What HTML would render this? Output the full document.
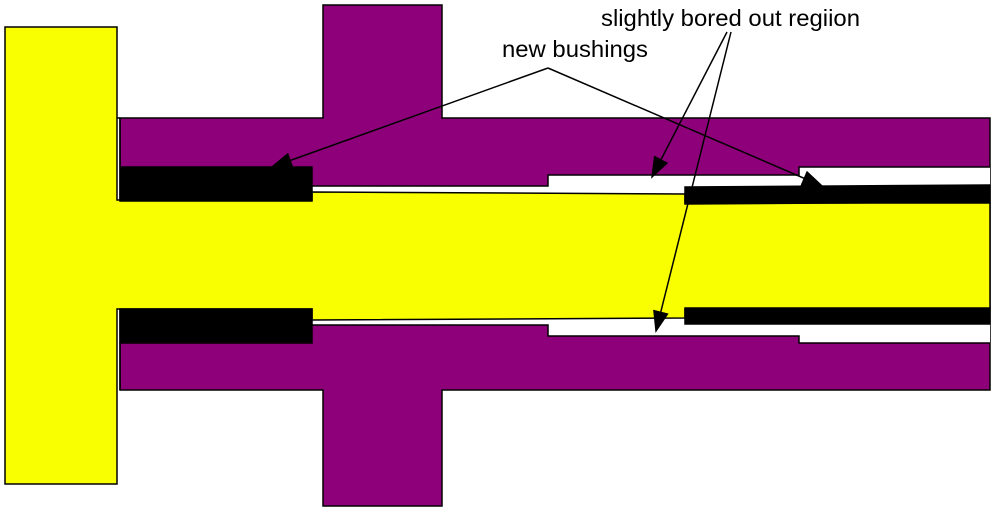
<!DOCTYPE html>
<html><head><style>html,body{margin:0;padding:0;background:#fff}svg{display:block}</style></head><body>
<svg width="994" height="510" viewBox="0 0 994 510" xmlns="http://www.w3.org/2000/svg">
<defs>
<marker id="b" markerWidth="22" markerHeight="16" refX="20" refY="8" orient="auto" markerUnits="userSpaceOnUse" viewBox="0 0 22 16"><path d="M0,0 L22,8 L0,16 z" fill="#000"/></marker></defs>
<g stroke="#000" stroke-width="1.5">
<path d="M120,118 H323 V5 H442 V118 H990 V390 H442 V506 H323 V390 H120 Z" fill="#8e007a"/>
<path d="M117,118 V200 H312 V186 H548 V175 H799 V167 H990 V343 H799 V336 H548 V325 H312 V309 H117 Z" fill="#fff" stroke="none"/>
<line x1="117" y1="118" x2="120" y2="118"/>
<line x1="120" y1="118" x2="120" y2="167"/>
<line x1="120" y1="343" x2="120" y2="390"/>
<path d="M312,186 H548 V175 H799 V167 H990" fill="none"/>
<path d="M312,325 H548 V336 H799 V343 H990" fill="none"/>
<path d="M5,27 H117 V200 H312 V192 L685,194 V203 H990 V308 H685 V318 L312,320 V309 H117 V484 H5 Z" fill="#f9ff00"/>
<rect x="120" y="167" width="192" height="34" fill="#000"/>
<rect x="120" y="309" width="192" height="34" fill="#000"/>
<path d="M685,187 L990,185 V202 L685,204 Z" fill="#000"/>
<rect x="685" y="309" width="305" height="15" fill="#000"/>
</g>
<g stroke="#000" stroke-width="1.5" fill="none">
<line x1="548" y1="68" x2="272" y2="167" marker-end="url(#b)"/>
<line x1="548" y1="68" x2="822" y2="186" marker-end="url(#b)"/>
<line x1="727" y1="32" x2="652" y2="177" marker-end="url(#b)"/>
<line x1="731" y1="32" x2="656" y2="331" marker-end="url(#b)"/>
</g>
<g font-family="Liberation Sans, sans-serif" font-size="23.5" fill="#000">
<text x="601" y="26" textLength="259" lengthAdjust="spacingAndGlyphs">slightly bored out regiion</text>
<text x="502" y="57" textLength="146" lengthAdjust="spacingAndGlyphs">new bushings</text>
</g>
</svg>
</body></html>
